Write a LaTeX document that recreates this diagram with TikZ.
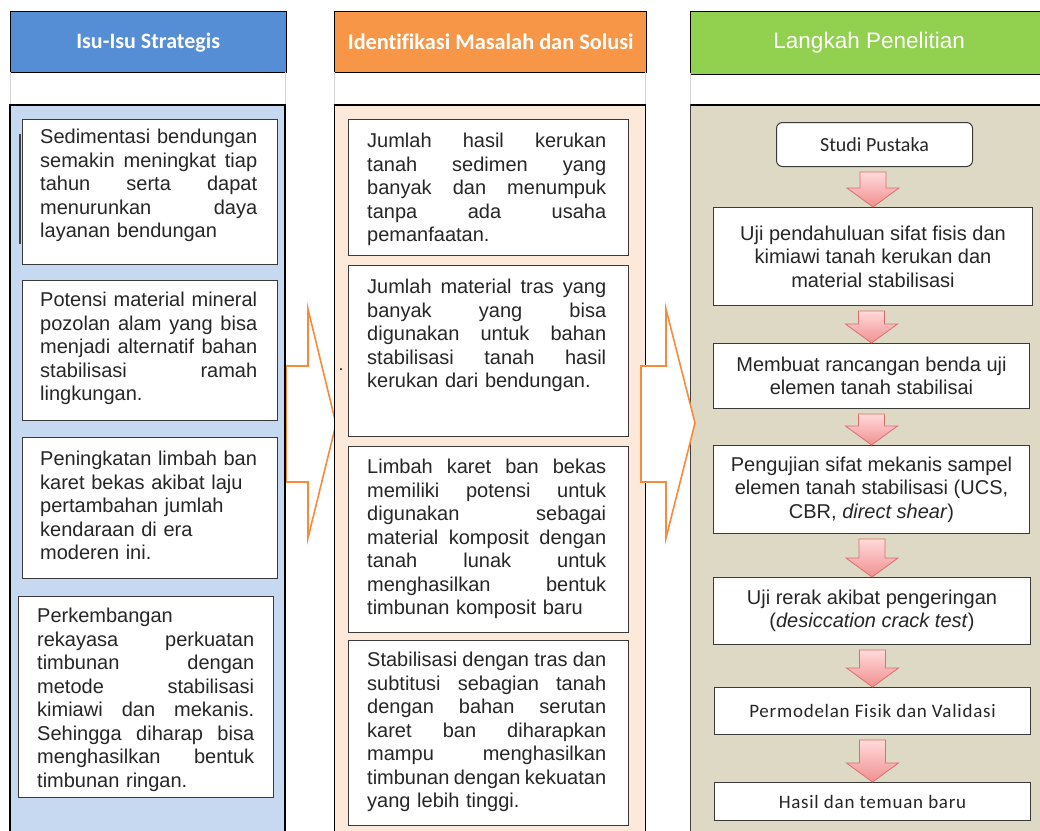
\documentclass[tikz,border=0pt]{standalone}
\usepackage{fontspec}
\setmainfont{Liberation Sans}
\newfontfamily\calfont[Ligatures=NoCommon]{Carlito}
\newfontfamily\calsp[LetterSpace=4,Ligatures=NoCommon]{Carlito}
\usetikzlibrary{calc}
\definecolor{hblue}{HTML}{558ED5}
\definecolor{horange}{HTML}{F79646}
\definecolor{hgreen}{HTML}{92D050}
\definecolor{bblue}{HTML}{C6D9F1}
\definecolor{bpeach}{HTML}{FDE9D9}
\definecolor{btan}{HTML}{DDD9C4}
\definecolor{aorange}{HTML}{F58B3C}
\definecolor{boxline}{HTML}{3A3A3A}
\definecolor{bandline}{HTML}{D6D6D6}
\definecolor{pinkA}{HTML}{FFDADA}
\definecolor{pinkB}{HTML}{F19090}
\definecolor{pinkline}{HTML}{DC6E6E}
\newcommand\jl[1]{\leavevmode\hbox to 217pt{\spaceskip=0.28em plus 3em minus 0.1em\relax #1}}
\newcommand\jm[1]{\leavevmode\hbox to 239pt{\spaceskip=0.28em plus 3em minus 0.1em\relax #1}}
\newcommand\pinkarr[2]{%
  \path[parrow] let \p1=(#1.south), \p2=(#2.north) in
    (\x2-13pt,\y1-5pt) -- (\x2+13pt,\y1-5pt) -- (\x2+13pt,\y2+19pt) --
    (\x2+26pt,\y2+19pt) -- (\x2,\y2) -- (\x2-26pt,\y2+19pt) --
    (\x2-13pt,\y2+19pt) -- cycle;}
\tikzset{
  hdr/.style={draw=black, line width=1.3pt, anchor=north west, inner sep=0pt, text=white},
  colbody/.style={draw=black, line width=1.2pt},
  tbox/.style={draw=boxline, line width=1pt, fill=white, anchor=north west, inner sep=0pt},
  bodyfont/.style={font=\fontsize{20}{23.5}\selectfont},
  ltxt/.style={bodyfont, text width=217pt, align=left, inner sep=0pt, anchor=base west, text=black!85},
  mtxt/.style={bodyfont, text width=239pt, align=left, inner sep=0pt, anchor=base west, text=black!85},
  rbox/.style={tbox, align=center, bodyfont, text=black!85},
  parrow/.style={top color=pinkA, bottom color=pinkB, draw=pinkline, line width=0.8pt},
  oarrow/.style={draw=aorange, line width=1.6pt, fill=white, line join=miter},
}
\begin{document}
\begin{tikzpicture}[x=1pt,y=-1pt]
\useasboundingbox (0,0) rectangle (1040,830);
% orange block arrow 1 (behind the columns)
\draw[oarrow] (286,366) -- (308,366) -- (308,309) -- (336,424) -- (308,538) -- (308,482) -- (286,482) -- cycle;

% headers
\node[hdr, fill=hblue, minimum width=276pt, minimum height=61pt, font=\calfont\bfseries\fontsize{22}{26}\selectfont] (H1) at (9.5,11) {Isu-Isu Strategis};
\node[hdr, fill=horange, minimum width=312pt, minimum height=61pt, font=\calfont\bfseries\fontsize{22.3}{26}\selectfont] (H2) at (334,11) {Identifikasi Masalah dan Solusi};
\node[hdr, fill=hgreen, minimum width=360pt, minimum height=63pt, font=\fontsize{22.5}{26}\selectfont] (H3) at (690,10.5) {\hspace*{-3pt}Langkah Penelitian};

% white bands
\draw[bandline, line width=1pt] (10,72) -- (10,105) (285,72) -- (285,105)
  (334.5,72) -- (334.5,105) (645.5,72) -- (645.5,105) (690.5,73) -- (690.5,105);

% column bodies
\draw[colbody, fill=bblue] (10,105) rectangle (285,845);
\draw[colbody, fill=bpeach] (334.5,105) rectangle (645.5,845);
\draw[colbody, fill=btan, draw=black!75] (690.5,105) rectangle (1050,845);
\draw[line width=2.6pt] (10,105) -- (285,105) (334.5,105) -- (645.5,105) (690.5,105) -- (1050,105);
\draw[line width=1.5pt, black!75] (20,134) -- (20,244);

% left column
\node[tbox, minimum width=255pt, minimum height=145pt] (L1) at (22,119) {};
\node[ltxt] (L1t) at (40,143.5) {\jl{Sedimentasi bendungan}\\\jl{semakin meningkat tiap}\\\jl{tahun serta dapat}\\\jl{menurunkan daya}\\layanan bendungan};
\node[tbox, minimum width=255pt, minimum height=140pt] (L2) at (22,280) {};
\node[ltxt] (L2t) at (40,306.5) {\jl{Potensi material mineral}\\\jl{pozolan alam yang bisa}\\\jl{menjadi alternatif bahan}\\\jl{stabilisasi ramah}\\lingkungan.};
\node[tbox, minimum width=255pt, minimum height=141pt] (L3) at (22,437) {};
\node[ltxt] (L3t) at (40,465.5) {Peningkatan limbah ban\\karet bekas akibat laju\\pertambahan jumlah\\kendaraan di era\\moderen ini.};
\node[tbox, minimum width=255pt, minimum height=201pt] (L4) at (18,596) {};
\node[ltxt] (L4t) at (37,622.5) {Perkembangan\\\jl{rekayasa perkuatan}\\\jl{timbunan dengan}\\\jl{metode stabilisasi}\\\jl{kimiawi dan mekanis.}\\\jl{Sehingga diharap bisa}\\\jl{menghasilkan bentuk}\\timbunan ringan.};

% middle column
\node[tbox, minimum width=280pt, minimum height=136pt] (M1) at (348,119) {};
\node[mtxt] (M1t) at (367,147.5) {\jm{Jumlah hasil kerukan}\\\jm{tanah sedimen yang}\\\jm{banyak dan menumpuk}\\\jm{tanpa ada usaha}\\pemanfaatan.};
\node[tbox, minimum width=280pt, minimum height=171pt] (M2) at (348,265) {};
\node[mtxt] (M2t) at (367,293.5) {\jm{Jumlah material tras yang}\\\jm{banyak yang bisa}\\\jm{digunakan untuk bahan}\\\jm{stabilisasi tanah hasil}\\kerukan dari bendungan.};
\node[tbox, minimum width=280pt, minimum height=186pt] (M3) at (348,446) {};
\node[mtxt] (M3t) at (367,473.5) {\jm{Limbah karet ban bekas}\\\jm{memiliki potensi untuk}\\\jm{digunakan sebagai}\\\jm{material komposit dengan}\\\jm{tanah lunak untuk}\\\jm{menghasilkan bentuk}\\timbunan komposit baru};
\node[tbox, minimum width=280pt, minimum height=185pt] (M4) at (348,640) {};
\node[mtxt] (M4t) at (367,666.5) {\jm{Stabilisasi dengan tras dan}\\\jm{subtitusi sebagian tanah}\\\jm{dengan bahan serutan}\\\jm{karet ban diharapkan}\\\jm{mampu menghasilkan}\\\jm{timbunan dengan kekuatan}\\yang lebih tinggi.};
\node[inner sep=0pt, anchor=base, font=\fontsize{16}{16}\selectfont] (dot) at (341,370) {.};

% right column
\node[rbox, rounded corners=6pt, minimum width=196pt, minimum height=44pt, font=\calfont\fontsize{20}{24}\selectfont] (R0) at (776,122) {Studi Pustaka};
\node[rbox, minimum width=319pt, minimum height=98pt] (R1) at (713,207) {Uji pendahuluan sifat fisis dan\\kimiawi tanah kerukan dan\\material stabilisasi};
\node[rbox, minimum width=316pt, minimum height=65pt] (R2) at (713,343) {Membuat rancangan benda uji\\elemen tanah stabilisai};
\node[rbox, minimum width=316pt, minimum height=88pt] (R3) at (713,445) {Pengujian sifat mekanis sampel\\elemen tanah stabilisasi (UCS,\\CBR, \textit{direct shear})};
\node[rbox, minimum width=317pt, minimum height=67pt] (R4) at (713,577) {Uji rerak akibat pengeringan\\(\textit{desiccation crack test})};
\node[rbox, minimum width=316pt, minimum height=47pt, font=\calsp\fontsize{19}{23}\selectfont] (R5) at (714,687) {Permodelan Fisik dan Validasi};
\node[rbox, minimum width=316pt, minimum height=38pt, font=\calsp\fontsize{19}{23}\selectfont] (R6) at (714,782) {Hasil dan temuan baru};

\pinkarr{R0}{R1}
\pinkarr{R1}{R2}
\pinkarr{R2}{R3}
\pinkarr{R3}{R4}
\pinkarr{R4}{R5}
\pinkarr{R5}{R6}

% orange block arrow 2 (in front)
\draw[oarrow] (641,366) -- (666,366) -- (666,309) -- (695,423) -- (666,538) -- (666,482) -- (641,482) -- cycle;
\end{tikzpicture}
\end{document}
